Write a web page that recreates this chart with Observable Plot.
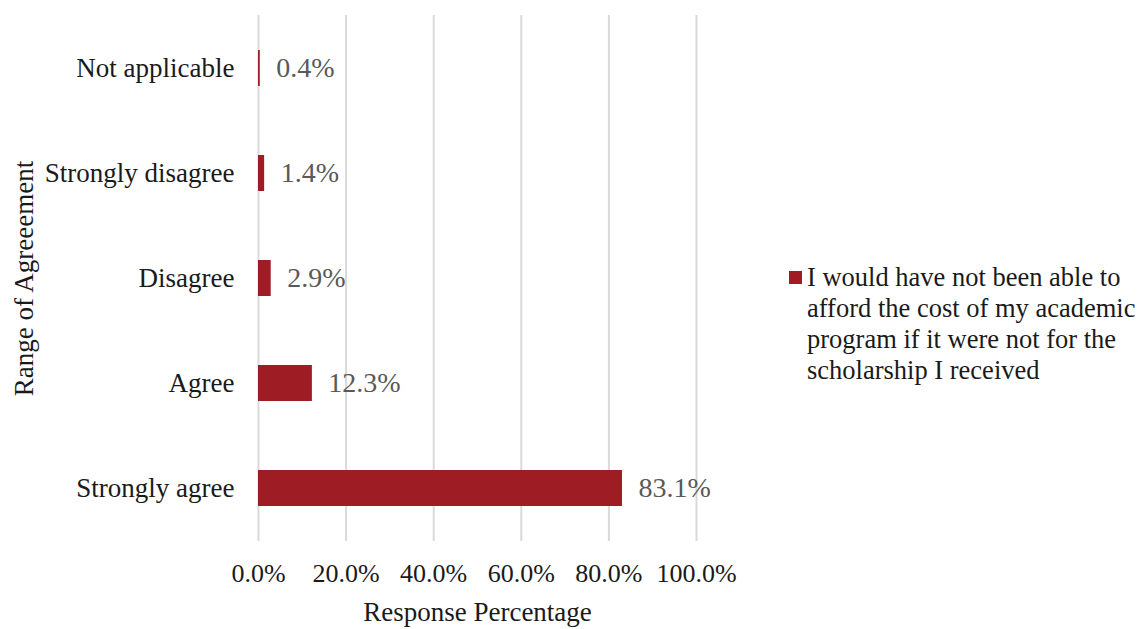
<!DOCTYPE html>
<html>
<head>
<meta charset="utf-8">
<script src="https://cdn.jsdelivr.net/npm/d3@7"></script>
<script src="https://cdn.jsdelivr.net/npm/@observablehq/plot@0.6"></script>
<style>
  html, body { margin: 0; padding: 0; background: #fff; }
  #wrap { position: relative; width: 1140px; height: 629px; font-family: "Liberation Serif", "Times New Roman", serif; }
  #legend { position: absolute; left: 789px; top: 262px; font-size: 26.5px; line-height: 31px; color: #1a1a1a; }
  #legend .sw { display: inline-block; width: 13px; height: 13px; background: #9e1c24; margin-right: 5px; vertical-align: 2px; }
  #legend .ln { white-space: nowrap; }
  #legend .ind { padding-left: 18px; }
</style>
</head>
<body>
<div id="wrap"><div id="legend"></div></div>
<script>
const categories = ["Not applicable", "Strongly disagree", "Disagree", "Agree", "Strongly agree"];
const values = [0.4, 1.4, 2.9, 12.3, 83.1];
const xTicks = [0, 20, 40, 60, 80, 100];
const seriesLines = ["I would have not been able to", "afford the cost of my academic", "program if it were not for the", "scholarship I received"];
const xLabel = "Response Percentage";
const yLabel = "Range of Agreeement";

const barColor = "#9e1c24";
const data = categories.map((c, i) => ({category: c, value: values[i]}));
const fmt = d => d.toFixed(1) + "%";

const chart = Plot.plot({
  width: 1140,
  height: 629,
  marginLeft: 258,
  marginRight: 444,
  marginTop: 15,
  marginBottom: 88,
  style: {fontFamily: "'Liberation Serif', 'Times New Roman', serif", background: "#fff", color: "#1a1a1a"},
  x: {domain: [0, 100]},
  y: {domain: categories, paddingInner: 0.655, paddingOuter: 0.3275},
  marks: [
    Plot.gridX(xTicks, {stroke: "#d9d9d9", strokeOpacity: 1, strokeWidth: 2}),
    Plot.barX(data, {x: "value", y: "category", fill: barColor}),
    Plot.text(data, {x: "value", y: "category", text: d => fmt(d.value), textAnchor: "start", dx: 16, fontSize: 28, fill: "#595959"}),
    Plot.axisX(xTicks, {tickSize: 0, tickPadding: 22, tickFormat: fmt, fontSize: 26, fill: "#1a1a1a", label: xLabel, labelAnchor: "center", labelArrow: "none", labelOffset: 79}),
    Plot.axisY({tickSize: 0, tickPadding: 24, fontSize: 27, fill: "#1a1a1a", label: yLabel, labelAnchor: "center", labelArrow: "none", labelOffset: 245})
  ]
});
document.getElementById("wrap").prepend(chart);

// enlarge axis labels to match the reference
chart.querySelectorAll("g[aria-label='x-axis label'] text, g[aria-label='y-axis label'] text").forEach(t => t.setAttribute("font-size", 27));

const lg = document.getElementById("legend");
seriesLines.forEach((t, i) => {
  const div = document.createElement("div");
  div.className = "ln" + (i > 0 ? " ind" : "");
  if (i === 0) {
    const sw = document.createElement("span");
    sw.className = "sw";
    div.appendChild(sw);
  }
  div.appendChild(document.createTextNode(t));
  lg.appendChild(div);
});
</script>
</body>
</html>
